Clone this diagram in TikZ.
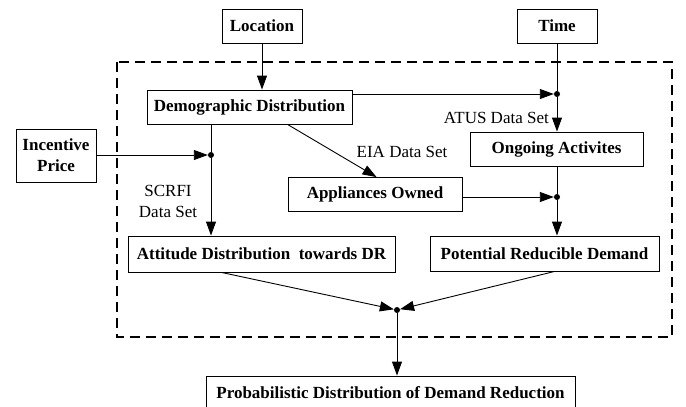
\documentclass[tikz,border=0pt]{standalone}
\usepackage{fontspec}
\setmainfont{Liberation Serif}
\usetikzlibrary{arrows.meta}
\begin{document}
\begin{tikzpicture}[x=1pt,y=-1pt,
  box/.style={draw, line width=0.9pt, font=\fontsize{17}{21}\selectfont\bfseries, inner sep=0pt, minimum height=34pt, align=center},
  lbl/.style={font=\fontsize{17}{21}\selectfont, inner sep=0pt, align=center},
  jdot/.style={circle, fill, inner sep=0pt, minimum size=6pt},
  conn/.style={line width=0.9pt},
  arr/.style={conn, -{Triangle[length=14pt,width=10pt]}},
  dashbox/.style={line width=1.3pt, dash pattern=on 10pt off 6pt},
]
\useasboundingbox (0,0) rectangle (686,407);

% dashed frame
\draw[dashbox] (117,62) rectangle (672,337);

% boxes
\node[box, minimum width=80pt] (loc) at (262,26) {Location};
\node[box, minimum width=80pt] (time) at (557,26) {Time};
\node[box, minimum width=205pt] (demo) at (249.5,107) {Demographic Distribution};
\node[box, minimum width=80pt, minimum height=53pt] (inc) at (56,155.5) {Incentive\\Price};
\node[box, minimum width=173pt] (ongo) at (556.5,149) {Ongoing Activites};
\node[box, minimum width=174pt] (appl) at (375,194.5) {Appliances Owned};
\node[box, minimum width=267pt, minimum height=36pt] (att) at (261.5,254) {Attitude Distribution\ \ towards DR};
\node[box, minimum width=229pt, minimum height=35pt] (pot) at (544.5,253.5) {Potential Reducible Demand};
\node[box, minimum width=369pt] (prob) at (390.5,393) {Probabilistic Distribution of Demand Reduction};

% junction dots
\node[jdot] (d1) at (557,94) {};
\node[jdot] (d2) at (211,155) {};
\node[jdot] (d3) at (557,197) {};
\node[jdot] (d4) at (397,310) {};

% labels
\node[lbl, anchor=east] (atus) at (549,118) {ATUS Data Set};
\node[lbl] (eia) at (402,152) {EIA Data Set};
\node[lbl] (scrfi) at (168,201.5) {SCRFI\\Data Set};

% connectors
\draw[arr] (loc.south) -- (loc.south |- demo.north);
\draw[conn] (time.south) -- (d1);
\draw[arr] (demo.east |- d1) -- (d1);
\draw[arr] (d1) -- (ongo.north -| d1);
\draw[conn] (demo.south -| d2) -- (d2);
\draw[arr] (inc.east |- d2) -- (d2);
\draw[arr] (d2) -- (att.north -| d2);
\draw[arr] ([xshift=141pt]demo.south west) -- ([xshift=89pt]appl.north west);
\draw[arr] (appl.east |- d3) -- (d3);
\draw[conn] (ongo.south -| d3) -- (d3);
\draw[arr] (d3) -- (pot.north -| d3);
\draw[arr] ([xshift=94pt]att.south west) -- (d4);
\draw[arr] ([xshift=125pt]pot.south west) -- (d4);
\draw[arr] (d4) -- (prob.north -| d4);
\end{tikzpicture}
\end{document}
